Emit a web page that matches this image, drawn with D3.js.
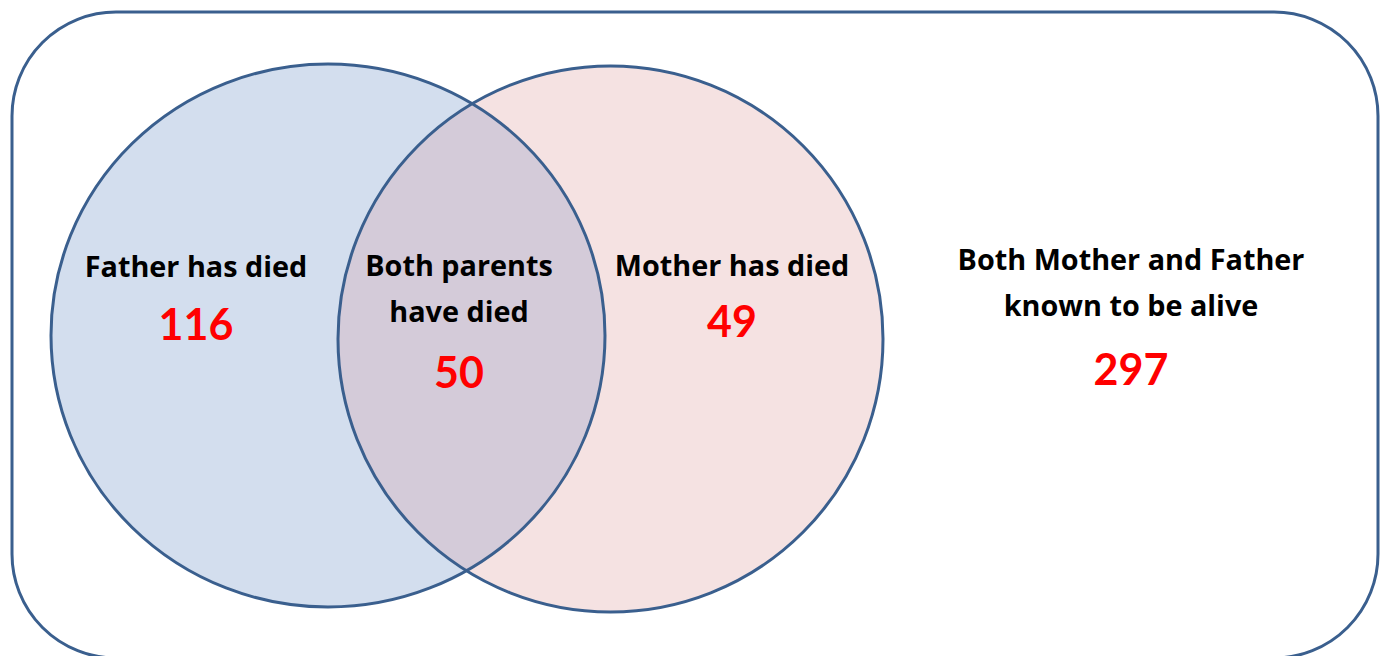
<!DOCTYPE html>
<html><head><meta charset="utf-8">
<script src="https://cdn.jsdelivr.net/npm/d3@7"></script>
<style>html,body{margin:0;padding:0;background:#fff;}svg{display:block;}</style>
</head><body>
<script>
// Data
const regionLabels = [["Father has died"], ["Both parents", "have died"], ["Mother has died"], ["Both Mother and Father", "known to be alive"]];
const regionCounts = [116, 50, 49, 297];
const setNames = ["Father has died", "Mother has died"];

const W = 1387, H = 656;
const svg = d3.select("body").append("svg").attr("width", W).attr("height", H);
const stroke = "#3a5f8e";
const labelFont = "'Open Sans', Lato, sans-serif";
const numFont = "Lato, 'Open Sans', sans-serif";

// outer frame
svg.append("rect").attr("x", 12).attr("y", 12).attr("width", 1366).attr("height", 646)
  .attr("rx", 104).attr("ry", 104).attr("fill", "#fff").attr("stroke", stroke).attr("stroke-width", 3);

const circles = [
  {name: setNames[0], cx: 328, cy: 335.5, rx: 277, ry: 271.5, fill: "#d3deee"},
  {name: setNames[1], cx: 610.5, cy: 339, rx: 272.5, ry: 273, fill: "#f5e2e2"}
];

const defs = svg.append("defs");
defs.append("clipPath").attr("id", "clipL").append("ellipse")
  .attr("cx", circles[0].cx).attr("cy", circles[0].cy).attr("rx", circles[0].rx).attr("ry", circles[0].ry);

svg.selectAll("ellipse.fill").data(circles).join("ellipse").attr("class", "fill")
  .attr("cx", d => d.cx).attr("cy", d => d.cy).attr("rx", d => d.rx).attr("ry", d => d.ry)
  .attr("fill", d => d.fill);

svg.append("ellipse").attr("clip-path", "url(#clipL)")
  .attr("cx", circles[1].cx).attr("cy", circles[1].cy).attr("rx", circles[1].rx).attr("ry", circles[1].ry)
  .attr("fill", "#d4cbd9");

svg.selectAll("ellipse.stroke").data(circles).join("ellipse").attr("class", "stroke")
  .attr("cx", d => d.cx).attr("cy", d => d.cy).attr("rx", d => d.rx).attr("ry", d => d.ry)
  .attr("fill", "none").attr("stroke", stroke).attr("stroke-width", 3);

// label layout
const layout = [
  {x: 196, y0: 277, ny: 340},
  {x: 459, y0: 276, ny: 388},
  {x: 732, y0: 276, ny: 337},
  {x: 1131, y0: 270, ny: 385}
];
const lineGap = 46;

regionLabels.forEach((lines, i) => {
  const L = layout[i];
  const g = svg.append("g");
  lines.forEach((t, j) => {
    g.append("text").attr("x", L.x).attr("y", L.y0 + j * lineGap)
      .attr("text-anchor", "middle").attr("font-family", labelFont).attr("font-weight", "bold")
      .attr("font-size", 28.8).attr("fill", "#000").text(t);
  });
  g.append("text").attr("x", L.x).attr("y", L.ny)
    .attr("text-anchor", "middle").attr("font-family", numFont).attr("font-weight", "bold")
    .attr("font-size", 43).attr("fill", "#ff0000").text(d3.format("d")(regionCounts[i]));
});
</script>
</body></html>
